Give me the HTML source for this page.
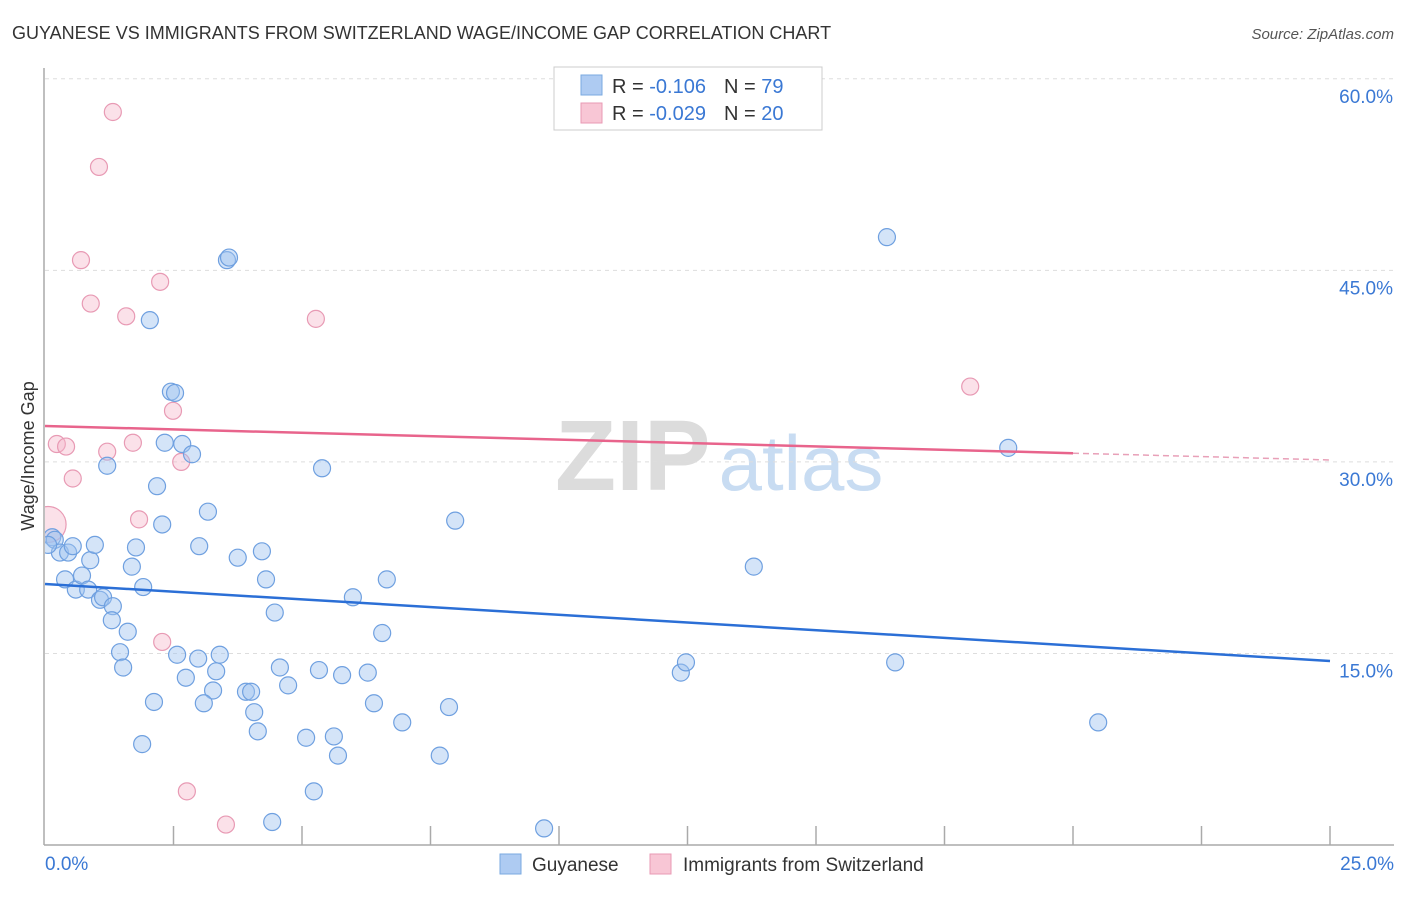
<!DOCTYPE html>
<html><head><meta charset="utf-8"><style>
body{margin:0;background:#fff;font-family:"Liberation Sans",sans-serif}
svg text{font-family:"Liberation Sans",sans-serif}
</style></head><body>
<svg id="chart" width="1406" height="892" xmlns="http://www.w3.org/2000/svg">
<text x="12" y="39" font-size="18" fill="#333">GUYANESE VS IMMIGRANTS FROM SWITZERLAND WAGE/INCOME GAP CORRELATION CHART</text>
<text x="1394" y="39" font-size="15" fill="#555" text-anchor="end" font-style="italic">Source: ZipAtlas.com</text>
<text x="555" y="490" font-size="100" fill="#dcdcdc" font-family="Liberation Serif" font-weight="bold">ZIP<tspan dx="8" fill="#c8dcf2" font-family="Liberation Sans" font-weight="normal" font-size="78">atlas</tspan></text>
<text transform="translate(34,456) rotate(-90)" font-size="18" fill="#333" text-anchor="middle">Wage/Income Gap</text>
<g id="grid"></g><g id="axes"></g><g id="marks"></g>
<g>
<rect x="554" y="67" width="268" height="63" fill="#fff" stroke="#ccc"/>
<rect x="581" y="75" width="21" height="20" fill="#aecbf2" stroke="#7aaae0"/>
<rect x="581" y="103" width="21" height="20" fill="#f8c6d5" stroke="#e89ab4"/>
<text x="612" y="93" font-size="20" fill="#333">R = <tspan fill="#3a78d4"> -0.106</tspan><tspan dx="18" fill="#333">N = </tspan><tspan fill="#3a78d4"> 79</tspan></text>
<text x="612" y="120" font-size="20" fill="#333">R = <tspan fill="#3a78d4">-0.029</tspan><tspan dx="18" fill="#333">N = </tspan><tspan fill="#3a78d4"> 20</tspan></text>
</g>
<g>
<rect x="500" y="854" width="21" height="20" fill="#aecbf2" stroke="#7aaae0"/>
<text x="532" y="871" font-size="19" fill="#333">Guyanese</text>
<rect x="650" y="854" width="21" height="20" fill="#f8c6d5" stroke="#e89ab4"/>
<text x="683" y="871" font-size="19" fill="#333">Immigrants from Switzerland</text>
</g>
</svg>
<script>
const blueX=[.14,.19,.29,.45,.54,.39,.60,.72,.84,.88,.97,1.07,1.13,1.32,1.30,1.61,1.46,1.52,1.77,1.69,1.91,1.21,2.18,2.28,2.04,2.45,2.53,2.33,2.67,2.86,3.54,3.58,3.17,3.00,2.57,2.98,2.74,3.33,3.40,3.27,3.09,2.12,1.89,3.75,4.22,4.30,3.91,4.01,4.07,4.14,4.47,4.57,4.73,4.42,5.08,5.23,5.33,5.39,5.62,5.70,5.78,6.28,5.99,6.40,6.56,6.65,6.95,7.68,7.86,7.98,9.71,12.37,12.47,13.79,16.38,16.54,18.74,20.49,.06];
const blueY=[24.1,23.9,22.9,22.9,23.4,20.8,20.0,21.1,20.0,22.3,23.5,19.2,19.4,18.7,17.6,16.7,15.1,13.9,23.3,21.8,20.2,29.7,28.1,25.1,41.1,35.5,35.4,31.5,31.4,30.6,45.8,46.0,26.1,23.4,14.9,14.6,13.1,13.6,14.9,12.1,11.1,11.2,7.9,22.5,23.0,20.8,12.0,12.0,10.4,8.9,18.2,13.9,12.5,1.8,8.4,4.2,13.7,29.5,8.5,7.0,13.3,13.5,19.4,11.1,16.6,20.8,9.6,7.0,10.8,25.4,1.3,13.5,14.3,21.8,47.6,14.3,31.1,9.6,23.5];
const pinkX=[1.32,1.05,.70,.89,1.58,2.24,5.27,2.49,.23,.41,1.21,1.71,2.65,.54,1.83,.06,2.28,2.76,3.52,18.0];
const pinkY=[57.4,53.1,45.8,42.4,41.4,44.1,41.2,34.0,31.4,31.2,30.8,31.5,30.0,28.7,25.5,25.1,15.9,4.2,1.6,35.9];
const blueTrend=[20.44,14.41];
const pinkTrend=[32.81,30.15];
const yTicks=[15,30,45,60];
const NS="http://www.w3.org/2000/svg";
const sx=v=>45+v*51.4, sy=v=>845-v*12.77;
function mk(tag,attrs,parent){const e=document.createElementNS(NS,tag);for(const k in attrs)e.setAttribute(k,attrs[k]);document.getElementById(parent).appendChild(e);return e;}
yTicks.forEach(t=>{
 const g=mk('line',{x1:45,x2:1394,y1:sy(t),y2:sy(t),stroke:'#ddd','stroke-dasharray':'4,4'},'grid');
 
 
 const l=mk('text',{x:1393,y:sy(t)+24,'font-size':19,fill:'#3a78d4','text-anchor':'end'},'grid');
 l.textContent=t.toFixed(1)+'%';
 
 
});
const ax=mk('line',{x1:44,x2:44,y1:68,y2:845,stroke:'#aaa','stroke-width':1.5},'axes');


const bx=mk('line',{x1:44,x2:1394,y1:845,y2:845,stroke:'#aaa','stroke-width':1.5},'axes');


for(let i=1;i<=10;i++){const t=mk('line',{x1:sx(i*2.5),x2:sx(i*2.5),y1:826,y2:845,stroke:'#aaa','stroke-width':1.5},'axes');
 
 }
[[0,'0.0%',45,'start'],[25,'25.0%',1394,'end']].forEach(d=>{const t=mk('text',{x:d[2],y:870,'font-size':19,fill:'#3a78d4','text-anchor':d[3]},'axes');t.textContent=d[1];
 
 });
mk('clipPath',{id:'clip'},'marks');
mk('rect',{x:45,y:60,width:1360,height:790},'clip');
function pts(X,Y,fill,stroke,name){X.forEach((x,i)=>{const r=(name==='pink-point'&&i===15)?18:8.5;
 const c=mk('circle',{cx:sx(x),cy:sy(Y[i]),r:r,fill:fill,stroke:stroke,'stroke-width':1.2,'clip-path':'url(#clip)'},'marks');
 
 });}
pts(pinkX,pinkY,'rgba(246,180,200,0.4)','#e89ab4','pink-point');
pts(blueX,blueY,'rgba(160,196,240,0.45)','#6fa0e0','blue-point');
const bl=mk('line',{x1:sx(0),y1:sy(blueTrend[0]),x2:sx(25),y2:sy(blueTrend[1]),stroke:'#2b6fd6','stroke-width':2.5},'marks');


const p20=pinkTrend[0]+(pinkTrend[1]-pinkTrend[0])*0.8;
const pl=mk('line',{x1:sx(0),y1:sy(pinkTrend[0]),x2:sx(20),y2:sy(p20),stroke:'#e8648c','stroke-width':2.5},'marks');


const pd=mk('line',{x1:sx(20),y1:sy(p20),x2:sx(25),y2:sy(pinkTrend[1]),stroke:'#e8a0b8','stroke-width':1.5,'stroke-dasharray':'6,4'},'marks');


</script>
</body></html>
